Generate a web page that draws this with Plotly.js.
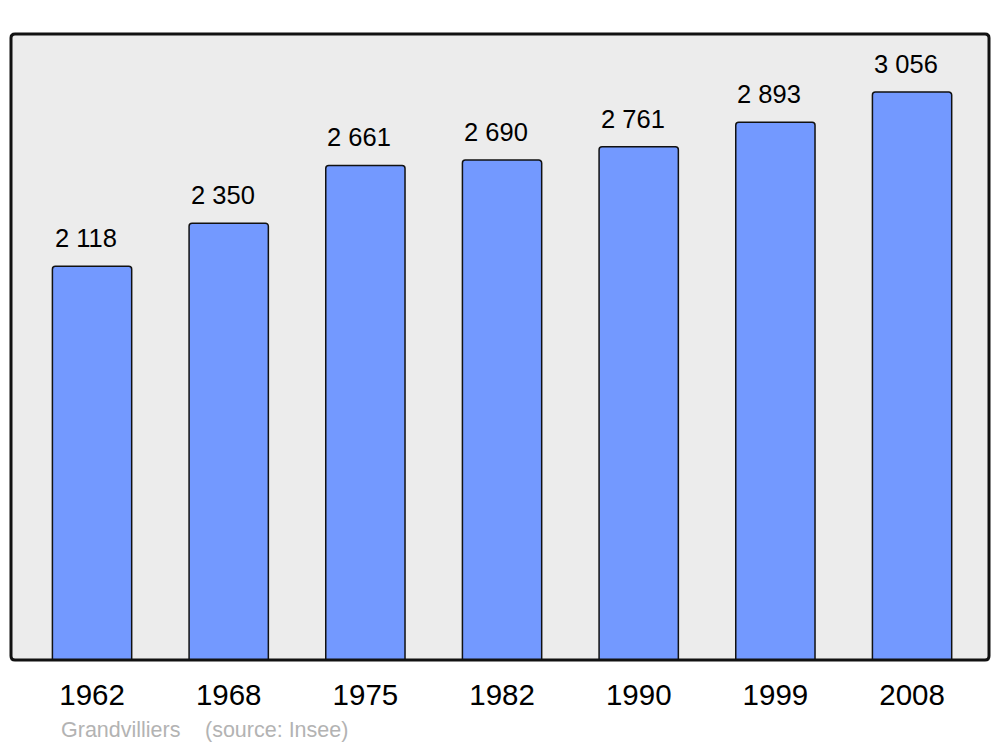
<!DOCTYPE html>
<html>
<head>
<meta charset="utf-8">
<script src="https://cdn.plot.ly/plotly-3.0.1.min.js"></script>
<style>html,body{margin:0;padding:0;background:#fff;}#chart{width:1000px;height:747px;}</style>
</head>
<body>
<div id="chart"></div>
<script>
const years = ["1962", "1968", "1975", "1982", "1990", "1999", "2008"];
const population = [2118, 2350, 2661, 2690, 2761, 2893, 3056];
const townName = "Grandvilliers";
const sourceText = "(source: Insee)";

function fmt(v) {
  return String(v).replace(/\B(?=(\d{3})+(?!\d))/g, "\u00a0");
}

// rounded frame path in paper coords
const W = 978, H = 626, R = 4;
const rx = R / W, ry = R / H;
function roundRect(x0, y0, x1, y1) {
  return `M ${x0 + rx},${y0} L ${x1 - rx},${y0} Q ${x1},${y0} ${x1},${y0 + ry} ` +
         `L ${x1},${y1 - ry} Q ${x1},${y1} ${x1 - rx},${y1} ` +
         `L ${x0 + rx},${y1} Q ${x0},${y1} ${x0},${y1 - ry} ` +
         `L ${x0},${y0 + ry} Q ${x0},${y0} ${x0 + rx},${y0} Z`;
}

const trace = {
  type: "bar",
  x: years,
  y: population,
  width: 0.58,
  marker: {
    color: "#7399ff",
    line: { color: "#111111", width: 1.5 },
    cornerradius: 3
  },
  hoverinfo: "skip"
};

const FONT = "Liberation Sans, Arial, sans-serif";
const annotations = years.map((yr, i) => ({
  x: i, y: population[i], xref: "x", yref: "y",
  text: fmt(population[i]),
  showarrow: false, yanchor: "middle", xanchor: "center",
  yshift: 28, xshift: -6,
  font: { family: FONT, size: 25.5, color: "#000" }
}));
annotations.push({
  xref: "paper", yref: "paper", x: (59 - 11) / W, y: (660 - 730) / H,
  xanchor: "left", yanchor: "middle", showarrow: false,
  text: townName,
  font: { family: FONT, size: 21.5, color: "#b3b3b3" }
});
annotations.push({
  xref: "paper", yref: "paper", x: (203 - 11) / W, y: (660 - 730) / H,
  xanchor: "left", yanchor: "middle", showarrow: false,
  text: sourceText,
  font: { family: FONT, size: 21.5, color: "#b3b3b3" }
});

const layout = {
  width: 1000, height: 747,
  margin: { l: 11, r: 11, t: 34, b: 87, pad: 0 },
  paper_bgcolor: "#ffffff",
  plot_bgcolor: "rgba(0,0,0,0)",
  showlegend: false,
  xaxis: {
    type: "category",
    range: [-0.593, 6.563],
    showgrid: false, zeroline: false, showline: false,
    ticks: "outside", ticklen: 9, tickcolor: "rgba(0,0,0,0)",
    tickfont: { family: FONT, size: 29.5, color: "#000" },
    fixedrange: true
  },
  yaxis: {
    range: [0, 3368],
    showgrid: false, zeroline: false, showline: false,
    showticklabels: false, ticks: "",
    fixedrange: true
  },
  shapes: [
    { type: "path", xref: "paper", yref: "paper", layer: "below",
      path: roundRect(0, 0, 1, 1), fillcolor: "#ececec", line: { width: 0 } },
    { type: "path", xref: "paper", yref: "paper", layer: "above",
      path: roundRect(0, 0, 1, 1), fillcolor: "rgba(0,0,0,0)",
      line: { color: "#111111", width: 3 } }
  ],
  annotations: annotations
};

Plotly.newPlot("chart", [trace], layout, { displayModeBar: false, staticPlot: true });
</script>
</body>
</html>
